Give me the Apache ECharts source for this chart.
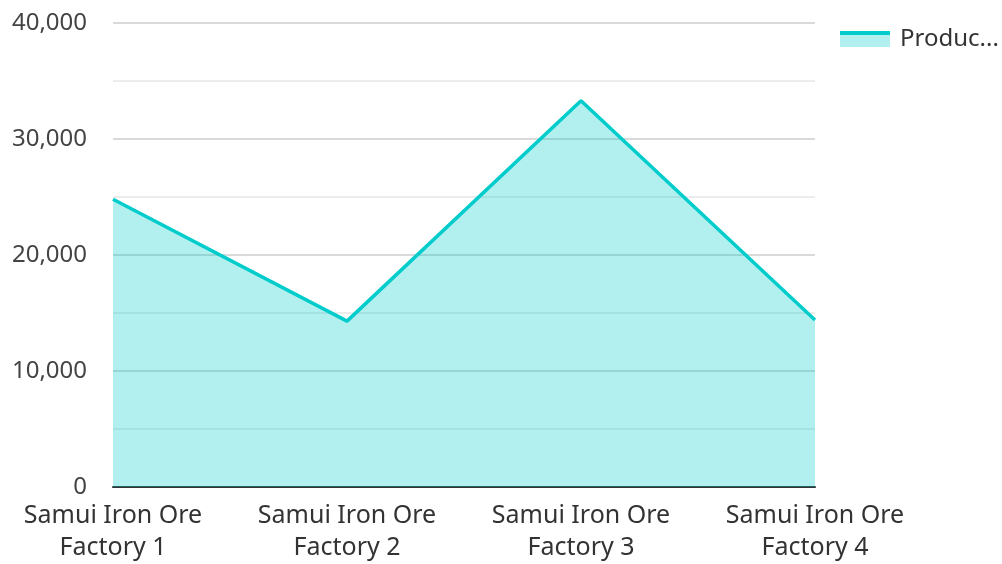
<!DOCTYPE html>
<html><head><meta charset="utf-8">
<script src="https://cdn.jsdelivr.net/npm/echarts@6/dist/echarts.min.js"></script>
<style>html,body{margin:0;padding:0;background:#fff}#c{width:1002px;height:564px}</style>
</head><body><div id="c"></div>
<script>
const categories = ['Samui Iron Ore\nFactory 1', 'Samui Iron Ore\nFactory 2', 'Samui Iron Ore\nFactory 3', 'Samui Iron Ore\nFactory 4'];
const seriesName = 'Production';
const values = [24800, 14300, 33300, 14400];
const yTicks = [0, 10000, 20000, 30000, 40000];

const chart = echarts.init(document.getElementById('c'));
const font = 'Noto Sans';
chart.setOption({
  animation: false,
  grid: { left: 113, right: 187, top: 23, bottom: 74, containLabel: false },
  legend: [{
    left: 840, top: 24, orient: 'vertical', padding: 0,
    icon: 'rect', itemWidth: 50, itemHeight: 16,
    selectedMode: false,
    itemStyle: { color: 'rgba(0,204,204,0.3)', borderWidth: 0 },
    textStyle: { fontFamily: font, fontSize: 24, lineHeight: 24, color: '#333', width: 104, overflow: 'truncate', ellipsis: '...', padding: [0, 0, 6, 5] },
    data: [seriesName]
  }, {
    left: 840, top: 31, orient: 'vertical', padding: 0,
    icon: 'rect', itemWidth: 50, itemHeight: 4,
    selectedMode: false,
    itemStyle: { color: '#00cccc', borderWidth: 0 },
    formatter: () => '',
    textStyle: { fontSize: 1, lineHeight: 1 },
    data: [seriesName]
  }],
  xAxis: {
    type: 'category', data: categories, boundaryGap: false,
    axisLine: { show: true, lineStyle: { color: '#333', width: 2 } },
    axisTick: { show: false },
    axisLabel: { fontFamily: font, fontSize: 25, color: '#333', lineHeight: 32, margin: 13 },
    splitLine: { show: false }
  },
  yAxis: {
    type: 'value', min: yTicks[0], max: yTicks[yTicks.length - 1], interval: 10000,
    axisLine: { show: false }, axisTick: { show: false },
    axisLabel: { fontFamily: font, fontSize: 24, color: '#444', margin: 26,
      formatter: v => v.toLocaleString('en-US') },
    splitLine: { lineStyle: { color: '#cccccc', width: 1.5 } },
    minorTick: { show: false, splitNumber: 2 },
    minorSplitLine: { show: true, lineStyle: { color: '#e6e6e6', width: 1.5 } }
  },
  series: [{
    name: seriesName, type: 'line', data: values,
    symbol: 'none', showSymbol: false,
    lineStyle: { color: '#00cccc', width: 3.5 },
    itemStyle: { color: '#00cccc' },
    areaStyle: { color: '#00cccc', opacity: 0.3 }
  }]
});
</script></body></html>
